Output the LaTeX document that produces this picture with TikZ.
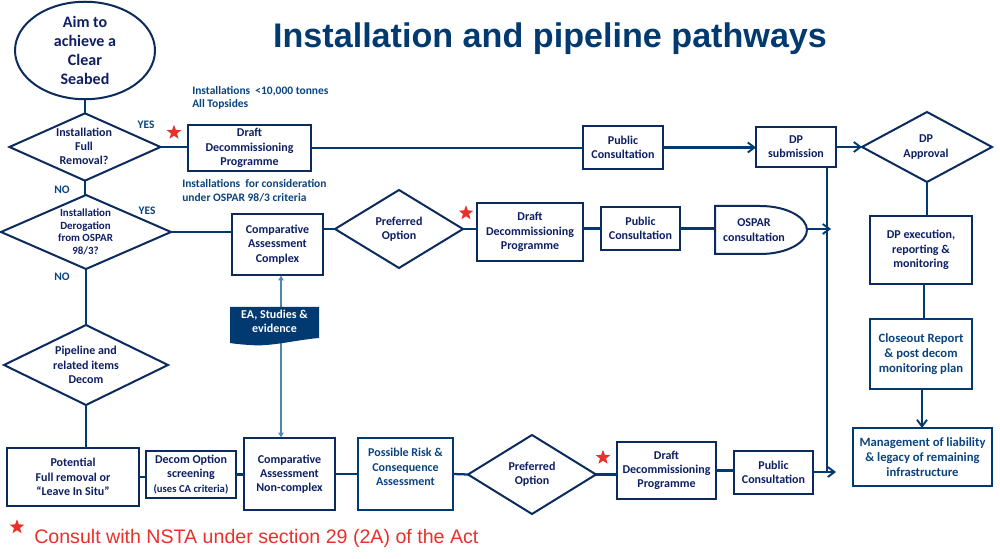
\documentclass[tikz,border=0pt]{standalone}
\usepackage{fontspec}
\setmainfont{Carlito}
\newfontfamily\arialf{Liberation Sans}
\usetikzlibrary{arrows.meta,shapes.geometric}
\definecolor{navy}{HTML}{003A70}
\definecolor{edge}{HTML}{0B2A5E}
\definecolor{ink}{HTML}{0E1F63}
\definecolor{bluetxt}{HTML}{0A4480}
\definecolor{thin}{HTML}{4F86B2}
\definecolor{redc}{HTML}{E9302A}
\tikzset{
  x=0.75pt,y=-0.75pt,
  box/.style={draw=edge,line width=1.5pt,rectangle,inner sep=0pt,outer sep=0pt,text=ink,align=center,font=\bfseries\fontsize{9}{10.7}\selectfont},
  bluebox/.style={box,draw=navy,text=bluetxt},
  bigblue/.style={bluebox,font=\bfseries\fontsize{9.5}{11.5}\selectfont},
  dia/.style={draw=edge,line width=1.5pt,diamond,inner sep=0pt,outer sep=0pt},
  dtxt/.style={inner sep=0pt,text=ink,align=center,font=\bfseries\fontsize{9}{10.7}\selectfont},
  note/.style={inner sep=0pt,text=bluetxt,align=left,font=\bfseries\fontsize{8.6}{10.2}\selectfont},
  yn/.style={inner sep=0pt,text=bluetxt,font=\bfseries\fontsize{8.6}{10}\selectfont},
  conn/.style={draw=navy,line width=1.7pt},
  arr/.style={conn,-{Straight Barb[length=5pt,width=7.5pt,line width=1.4pt]}},
  link/.style={draw=thin,line width=.9pt},
  redstar/.style={star,star points=5,star point ratio=2.4,fill=redc,draw=none,inner sep=0pt,minimum size=11.5pt},
}
\newcommand{\bx}[7][box]{\node[#1,minimum width=#4*0.75pt-#2*0.75pt,minimum height=#6*0.75pt-#5*0.75pt] (#3) at ({(#2+#4)/2},{(#5+#6)/2}) {#7};}
\begin{document}
\begin{tikzpicture}
\useasboundingbox (0,0) rectangle (1000,559);
\fill[white] (0,0) rectangle (1000,559);
% title
\node[inner sep=0pt,text=navy,font=\arialf\bfseries\fontsize{25.6}{30}\selectfont] (title) at (550,39) {Installation and pipeline pathways};
% start
\node[draw=edge,line width=1.5pt,ellipse,inner sep=0pt,outer sep=0pt,minimum width=105pt,minimum height=68.5pt,text=ink,align=center,font=\bfseries\fontsize{12}{14.4}\selectfont] (start) at (85,50.5) {Aim to\\achieve a\\Clear\\Seabed};
% diamonds
\node[dia,minimum width=113.25pt,minimum height=50.5pt] (d1) at (85,147) {};
\node[dtxt] (d1t) at (84,146.5) {Installation\\Full\\Removal?};
\node[dia,minimum width=127.5pt,minimum height=55.5pt] (d2) at (86,232) {};
\node[dtxt,font=\bfseries\fontsize{8.2}{9.6}\selectfont] (d2t) at (85.5,232) {Installation\\Derogation\\from OSPAR\\98/3?};
\node[dia,minimum width=123pt,minimum height=60pt] (pipe) at (86,365) {};
\node[dtxt] (pipet) at (86,365) {Pipeline and\\related items\\Decom};
\node[dia,minimum width=96pt,minimum height=58.5pt] (pref1) at (399,229) {};
\node[dtxt] (pref1t) at (399,229) {Preferred\\Option};
\node[dia,minimum width=96pt,minimum height=59.25pt] (pref2) at (532,474.5) {};
\node[dtxt] (pref2t) at (532,474.5) {Preferred\\Option};
\node[dia,minimum width=97.5pt,minimum height=52.5pt] (dpa) at (927,147) {};
\node[dtxt] (dpat) at (926,147) {DP\\Approval};
% boxes
\bx{188}{draft1}{311}{125}{171}{Draft\\Decommissioning\\Programme}
\bx{583}{pub1}{663}{126}{169}{Public\\Consultation}
\bx{756}{dpsub}{836}{127}{167}{DP\\submission}
\bx{232}{caone}{323}{214}{275}{Comparative\\Assessment\\Complex}
\bx{477}{draft2}{583}{203}{261}{Draft\\Decommissioning\\Programme}
\bx{601}{pub2}{680}{207}{250}{Public\\Consultation}
\bx{870}{dpex}{972}{216}{284}{DP execution,\\reporting \&\\monitoring}
\bx[bigblue]{870}{close}{972}{319}{389}{Closeout Report\\\& post decom\\monitoring plan}
\bx[bigblue]{853}{mgmt}{992}{428}{486}{Management of liability\\\& legacy of remaining\\infrastructure}
\bx{7}{pot}{139}{448}{506}{Potential\\Full removal or\\``Leave In Situ''}
\bx{146}{decom}{236}{451}{498}{Decom Option\\screening\\{\fontsize{8}{10.7}\selectfont (uses CA criteria)}}
\bx{244}{catwo}{335}{438}{510}{Comparative\\Assessment\\Non-complex}
\bx[bluebox]{358}{risk}{453}{438}{510}{}
\node[dtxt,text=bluetxt] (riskt) at (405.5,467) {Possible Risk \&\\Consequence\\Assessment};
\bx{617}{draft3}{716}{442}{499}{Draft\\Decommissioning\\Programme}
\bx{734}{pub3}{813}{451}{494}{Public\\Consultation}
% OSPAR delayed shape
\node[dtxt,minimum width=69pt,minimum height=36pt] (ospar) at (761,230) {};
\draw[draw=edge,line width=1.5pt] (715,206) -- (760,206) .. controls (788,206) and (807,218) .. (807,230) .. controls (807,242) and (788,254) .. (760,254) -- (715,254) -- cycle;
\node[dtxt] (ospart) at (754,230) {OSPAR\\consultation};
% EA document
\coordinate (ealine) at (281,325);
\node[inner sep=0pt,outer sep=0pt,minimum width=66.75pt,minimum height=25pt] (ea) at (274.5,323.5) {};
\draw[link,-{Latex[length=4pt,width=4.5pt]}] (ealine |- ea.north) -- (ealine |- caone.south);
\draw[link,-{Latex[length=4pt,width=4.5pt]}] (ealine |- ea.south) -- (ealine |- catwo.north);
\fill[navy] (ea.north west) -- (ea.north east) -- (319,338) .. controls (295,340) and (270,347) .. (250,345) .. controls (242,344.5) and (236,344) .. (230,343) -- cycle;
\node[inner sep=0pt,text=white,align=center,font=\bfseries\fontsize{9}{10.7}\selectfont] (eat) at (274.5,321.5) {EA, Studies \&\\evidence};
% connectors
\draw[conn] (start.south) -- (d1.north);
\draw[conn] (d1.south) -- (d1.south |- d2.north);
\draw[conn] (d2.south) -- (d2.south |- pipe.north);
\draw[conn] (pipe.south) -- (pipe.south |- pot.north);
\draw[conn] (d1.east) -- (d1.east -| draft1.west);
\draw[conn] (draft1.east) -- (draft1.east -| pub1.west);
\draw[arr] (pub1.east) -- (pub1.east -| dpsub.west);
\draw[arr] (dpsub.east) -- (dpsub.east -| dpa.west);
\draw[conn] (d2.east) -- (d2.east -| caone.west);
\draw[conn] (pref1.west -| caone.east) -- (pref1.west);
\draw[conn] (pref1.east) -- (pref1.east -| draft2.west);
\draw[conn] (pub2.west -| draft2.east) -- (pub2.west);
\draw[conn] (pub2.east) -- (pub2.east -| ospar.west);
\coordinate (vtop) at (827,167);
\coordinate (vbot) at (827,472);
\coordinate (ospend) at (831,229);
\draw[arr] (807,229) -- (ospend);
\coordinate (pubend) at (836,472);
\draw[conn] (vtop) -- (vbot);
\draw[arr] (pub3.east |- vbot) -- (pubend);
\draw[conn] (dpa.south) -- (dpa.south |- dpex.north);
\draw[conn] (924,284) -- (924,319);
\draw[arr] (922,389) -- (922,428);
\draw[conn] (pot.east) -- (pot.east -| decom.west);
\draw[conn] (decom.east) -- (decom.east -| catwo.west);
\draw[conn] (catwo.east) -- (catwo.east -| risk.west);
\draw[conn] (risk.east) -- (pref2.west);
\draw[conn] (pref2.east) -- (pref2.east -| draft3.west);
\draw[conn] (draft3.east) -- (draft3.east -| pub3.west);
% labels
\node[note,anchor=west] (n1) at (192,98) {Installations\ \ <10,000 tonnes\\All Topsides};
\node[note,anchor=west] (n2) at (182,190.5) {Installations\ \ for consideration\\under OSPAR 98/3 criteria};
\node[yn] (y1) at (146,125) {YES};
\node[yn] (no1) at (62,190) {NO};
\node[yn] (y2) at (147,210.5) {YES};
\node[yn] (no2) at (62,276.5) {NO};
% stars
\node[redstar] (s1) at (174,132.5) {};
\node[redstar] (s2) at (466,213) {};
\node[redstar] (s3) at (603,457.5) {};
\node[redstar] (s4) at (17,527) {};
\node[inner sep=0pt,anchor=west,text=redc,font=\arialf\fontsize{14.7}{16}\selectfont] (consult) at (34,538) {Consult with NSTA under section 29 (2A) of the Act};
\end{tikzpicture}
\end{document}
